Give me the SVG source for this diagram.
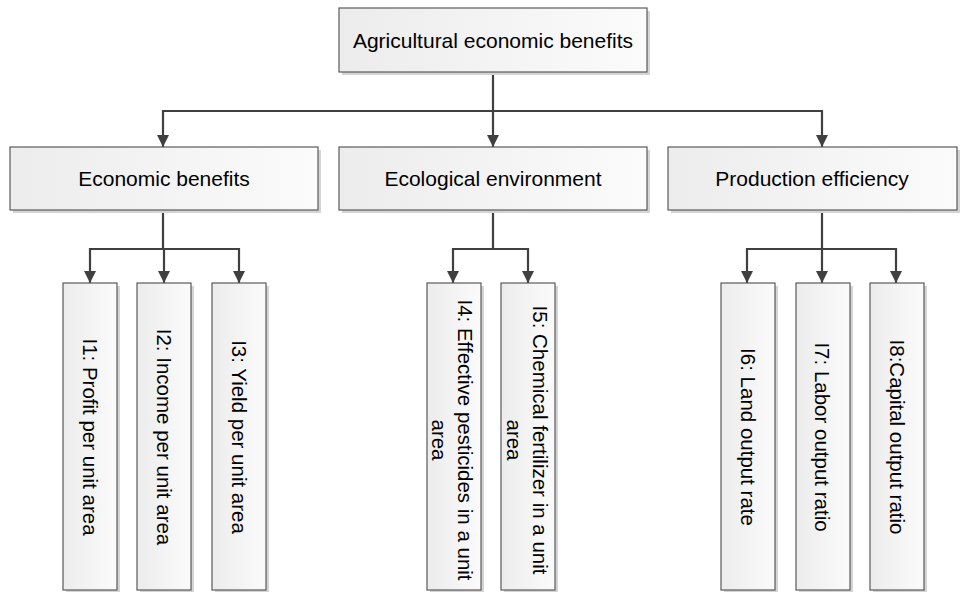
<svg xmlns="http://www.w3.org/2000/svg" width="965" height="592" viewBox="0 0 965 592">
<defs>
<linearGradient id="g" x1="0" y1="0" x2="1" y2="0">
<stop offset="0" stop-color="#ececec"/>
<stop offset="1" stop-color="#fbfbfb"/>
</linearGradient>
<marker id="arr" markerUnits="userSpaceOnUse" markerWidth="14" markerHeight="14" viewBox="0 0 14 14" refX="13" refY="7" orient="auto">
<path d="M1,1 L13,7 L1,13 Z" fill="#404040"/>
</marker>
<style>
.box{fill:url(#g);stroke:#5a5a5a;stroke-width:1.2}
.sh{fill:#d4d4d4}
.t{font-family:"Liberation Sans",Arial,sans-serif;font-size:20.5px;fill:#000;text-anchor:middle;dominant-baseline:central}
.h{font-size:21px}
.c{fill:none;stroke:#404040;stroke-width:2.2}
.a{marker-end:url(#arr)}
</style>
</defs>
<rect width="965" height="592" fill="#fff"/>
<g id="connectors">
<path class="c" d="M493,72 V111 M163,111 H822"/>
<path class="c a" d="M163,110 V147"/>
<path class="c a" d="M493,110 V147"/>
<path class="c a" d="M822,110 V147"/>
<path class="c" d="M163,210 V249 M90,249 H239"/>
<path class="c a" d="M90,248 V283"/>
<path class="c a" d="M164,248 V283"/>
<path class="c a" d="M239,248 V283"/>
<path class="c" d="M493,210 V249 M453,249 H528"/>
<path class="c a" d="M453,248 V283"/>
<path class="c a" d="M528,248 V283"/>
<path class="c" d="M822,210 V249 M747,249 H896"/>
<path class="c a" d="M747,248 V283"/>
<path class="c a" d="M822,248 V283"/>
<path class="c a" d="M896,248 V283"/>
</g>
<g id="root">
<rect class="sh" x="342" y="11" width="308" height="64"/>
<rect class="box" x="339" y="8" width="308" height="64"/>
<text class="t h" x="493" y="40">Agricultural economic benefits</text>
</g>
<g id="economic">
<rect class="sh" x="13" y="150" width="308" height="63"/>
<rect class="box" x="10" y="147" width="308" height="63"/>
<text class="t h" x="164" y="178.5">Economic benefits</text>
</g>
<g id="ecological">
<rect class="sh" x="342" y="150" width="308" height="63"/>
<rect class="box" x="339" y="147" width="308" height="63"/>
<text class="t h" x="493" y="178.5">Ecological environment</text>
</g>
<g id="production">
<rect class="sh" x="671" y="150" width="289" height="63"/>
<rect class="box" x="668" y="147" width="289" height="63"/>
<text class="t h" x="812" y="178.5">Production efficiency</text>
</g>
<g id="i1">
<rect class="sh" x="66" y="286" width="54" height="307"/>
<rect class="box" x="63" y="283" width="54" height="307"/>
<text class="t" transform="translate(90,437) rotate(90)">I1: Profit per unit area</text>
</g>
<g id="i2">
<rect class="sh" x="140" y="286" width="54" height="307"/>
<rect class="box" x="137" y="283" width="54" height="307"/>
<text class="t" transform="translate(164,437) rotate(90)">I2: Income per unit area</text>
</g>
<g id="i3">
<rect class="sh" x="215" y="286" width="54" height="307"/>
<rect class="box" x="212" y="283" width="54" height="307"/>
<text class="t" transform="translate(239,437) rotate(90)">I3: Yield per unit area</text>
</g>
<g id="i4">
<rect class="sh" x="430" y="286" width="54" height="307"/>
<rect class="box" x="427" y="283" width="54" height="307"/>
<text class="t" transform="translate(453,440) rotate(90)"><tspan x="0" y="-12.5">I4: Effective pesticides in a unit</tspan><tspan x="0" y="13">area</tspan></text>
</g>
<g id="i5">
<rect class="sh" x="504" y="286" width="54" height="307"/>
<rect class="box" x="501" y="283" width="54" height="307"/>
<text class="t" transform="translate(528,440) rotate(90)"><tspan x="0" y="-12.5">I5: Chemical fertilizer in a unit</tspan><tspan x="0" y="13">area</tspan></text>
</g>
<g id="i6">
<rect class="sh" x="724" y="286" width="54" height="307"/>
<rect class="box" x="721" y="283" width="54" height="307"/>
<text class="t" transform="translate(748,437) rotate(90)">I6: Land output rate</text>
</g>
<g id="i7">
<rect class="sh" x="799" y="286" width="54" height="307"/>
<rect class="box" x="796" y="283" width="54" height="307"/>
<text class="t" transform="translate(822,437) rotate(90)">I7: Labor output ratio</text>
</g>
<g id="i8">
<rect class="sh" x="873" y="286" width="54" height="307"/>
<rect class="box" x="870" y="283" width="54" height="307"/>
<text class="t" transform="translate(897,437) rotate(90)">I8:Capital output ratio</text>
</g>
</svg>
